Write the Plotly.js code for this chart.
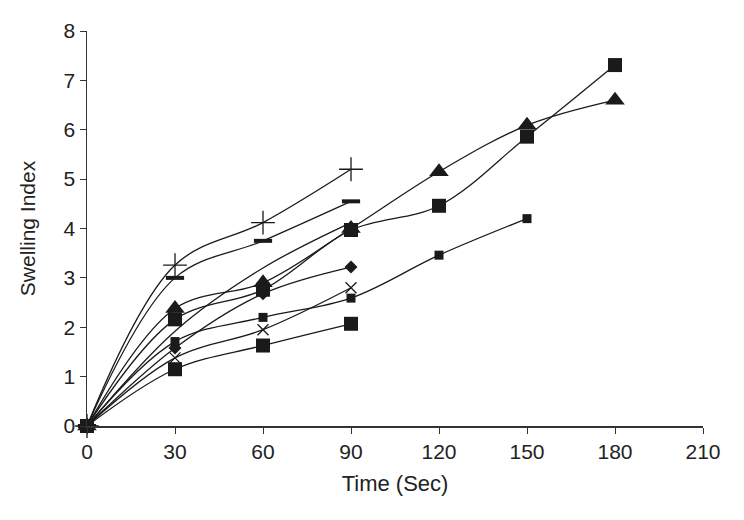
<!DOCTYPE html>
<html>
<head>
<meta charset="utf-8">
<script src="https://cdn.plot.ly/plotly-3.0.1.min.js"></script>
<style>
  html, body { margin: 0; padding: 0; background: #fff; }
  #chart { width: 744px; height: 520px; outline: 2px solid #222; outline-offset: -2px; }
</style>
</head>
<body>
<div id="chart"></div>
<script>
// time points (sec)
const timeShort = [0, 30, 60, 90];
const timeMid = [0, 30, 60, 90, 120, 150];
const timeLong = [0, 30, 60, 90, 120, 150, 180];

// swelling index per formulation
const plusVals = [0, 3.26, 4.12, 5.20];
const dashVals = [0, 3.0, 3.75, 4.55];
const circleVals = [0, 1.92, 3.2, 4.12];
const triangleVals = [0, 2.38, 2.9, 4.0, 5.15, 6.09, 6.6];
const bigSquareVals = [0, 2.16, 2.76, 3.97, 4.46, 5.86, 7.31];
const diamondVals = [0, 1.58, 2.68, 3.22];
const crossVals = [0, 1.38, 1.95, 2.8];
const smallSquareVals = [0, 1.71, 2.2, 2.59, 3.46, 4.2];
const lowSquareVals = [0, 1.15, 1.63, 2.07];

const xTicks = [0, 30, 60, 90, 120, 150, 180, 210];
const yTicks = [0, 1, 2, 3, 4, 5, 6, 7, 8];

const ink = "#1a1a1a";

function series(x, y, symbol, size, open, lw) {
  return {
    x: x, y: y,
    type: "scatter",
    mode: "lines+markers",
    cliponaxis: false,
    line: { color: ink, width: 1.3, shape: "spline", smoothing: 1 },
    marker: {
      symbol: symbol,
      size: size,
      color: open ? "rgba(0,0,0,0)" : ink,
      line: { color: ink, width: lw || 0 }
    },
    showlegend: false,
    hoverinfo: "x+y"
  };
}

const traces = [
  series(timeShort, lowSquareVals, "square", 14, false),
  series(timeMid, smallSquareVals, "square", 9, false),
  series(timeShort, crossVals, "x-thin", 11, true, 1.3),
  series(timeShort, diamondVals, "diamond", 10, false),
  series(timeShort, circleVals, "circle-open", 9, true, 1.2),
  series(timeLong, triangleVals, "triangle-up", 17, false),
  series(timeLong, bigSquareVals, "square", 14, false),
  series(timeShort, dashVals, "line-ew", 13, true, 4),
  series(timeShort, plusVals, "cross-thin", 17, true, 1.3)
];

const font = { family: "Liberation Sans, Arial, sans-serif", size: 21, color: "#222" };

Plotly.newPlot("chart", traces, {
  width: 744,
  height: 520,
  margin: { l: 87, r: 41, t: 31, b: 94 },
  paper_bgcolor: "#fff",
  plot_bgcolor: "#fff",
  font: font,
  xaxis: {
    range: [0, 210],
    tickvals: xTicks,
    ticktext: xTicks.map(String),
    ticks: "outside",
    ticklen: 6,
    tickcolor: "#333",
    tickfont: { size: 21 },
    showline: true,
    linecolor: "#333",
    linewidth: 1.5,
    showgrid: false,
    zeroline: false,
    title: { text: "Time (Sec)", font: { size: 22 }, standoff: 14 }
  },
  yaxis: {
    range: [0, 8],
    tickvals: yTicks,
    ticktext: yTicks.map(String),
    ticks: "outside",
    ticklen: 6,
    tickcolor: "#333",
    tickfont: { size: 21 },
    showline: true,
    linecolor: "#333",
    linewidth: 1.5,
    showgrid: false,
    zeroline: false,
    title: { text: "Swelling Index", font: { size: 21 }, standoff: 22 }
  }
}, { displayModeBar: false, staticPlot: true });
</script>
</body>
</html>
